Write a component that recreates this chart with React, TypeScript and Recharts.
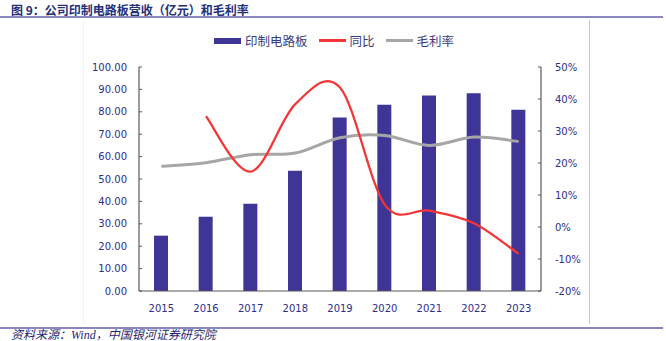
import { ComposedChart, Bar, Line, XAxis, YAxis } from "recharts";

const years = ["2015", "2016", "2017", "2018", "2019", "2020", "2021", "2022", "2023"];
const revenue = [24.7, 33.2, 38.9, 53.7, 77.4, 83.1, 87.3, 88.3, 80.9];
const yoy = [null, 34.6, 17.3, 38.4, 43.6, 7.0, 5.1, 1.2, -8.4];
const grossMargin = [19.0, 20.1, 22.6, 23.1, 27.9, 28.6, 25.5, 28.1, 26.7];
const leftTicks = [0, 10, 20, 30, 40, 50, 60, 70, 80, 90, 100];
const rightTicks = [-20, -10, 0, 10, 20, 30, 40, 50];
const edgeTicks = [0, 1, 2, 3, 4, 5, 6, 7, 8, 9];

const data = years.map((year, i) => ({
  year,
  idx: i,
  revenue: revenue[i],
  yoy: yoy[i],
  margin: grossMargin[i],
}));

const NAVY = "#2E2E8C";
const AXIS = "#595959";
const BAR = "#3F3597";
const RED = "#F53535";
const GRAY = "#A6A6A6";
const tickFont = { fontSize: 10, fill: NAVY, fontFamily: "DejaVu Sans" };

// excel-like smoothed line (catmull-rom through the points)
function smoothCurve(context: any) {
  let pts: number[][] = [];
  return {
    areaStart() {},
    areaEnd() {},
    lineStart() {
      pts = [];
    },
    point(x: number, y: number) {
      pts.push([+x, +y]);
    },
    lineEnd() {
      if (!pts.length) return;
      context.moveTo(pts[0][0], pts[0][1]);
      for (let i = 0; i < pts.length - 1; i++) {
        const p0 = pts[i - 1] || pts[i];
        const p1 = pts[i];
        const p2 = pts[i + 1];
        const p3 = pts[i + 2] || p2;
        context.bezierCurveTo(
          p1[0] + (p2[0] - p0[0]) / 6,
          p1[1] + (p2[1] - p0[1]) / 6,
          p2[0] - (p3[0] - p1[0]) / 6,
          p2[1] - (p3[1] - p1[1]) / 6,
          p2[0],
          p2[1]
        );
      }
    },
  };
}

function LegendItem({ color, label, thick }: { color: string; label: string; thick: number }) {
  return (
    <span style={{ display: "inline-flex", alignItems: "center", marginRight: 11 }}>
      <span style={{ display: "inline-block", width: 27, height: thick, background: color, marginRight: 4 }} />
      <span>{label}</span>
    </span>
  );
}

export default function App() {
  return (
    <div
      style={{
        position: "absolute",
        left: 0,
        top: 0,
        width: 666,
        height: 341,
        background: "#fff",
        overflow: "hidden",
        fontFamily: "'Noto Sans CJK SC', sans-serif",
      }}
    >
      <div style={{ position: "absolute", left: 11, top: 1, fontSize: 12, fontWeight: 700, color: "#23307A" }}>
        图 9：公司印制电路板营收（亿元）和毛利率
      </div>
      <div style={{ position: "absolute", left: 0, top: 16, width: 663, height: 1.5, background: "#8A86C6" }} />
      <div style={{ position: "absolute", left: 83, top: 20, width: 1, height: 304, background: "#F2F2F2" }} />
      <div style={{ position: "absolute", left: 589, top: 20, width: 1, height: 304, background: "#C8C8C8" }} />
      <div style={{ position: "absolute", left: 0, top: 327, width: 663, height: 1.5, background: "#8A86C6" }} />
      <div
        style={{
          position: "absolute",
          left: 11,
          top: 325,
          fontSize: 12,
          fontStyle: "italic",
          color: "#1F1F70",
          fontFamily: "'Liberation Serif', 'Noto Sans CJK SC', serif",
        }}
      >
        资料来源：Wind，中国银河证券研究院
      </div>
      <div
        style={{
          position: "absolute",
          left: 214,
          top: 31,
          fontSize: 12.5,
          color: "#3A3A80",
          display: "flex",
          alignItems: "center",
          whiteSpace: "nowrap",
        }}
      >
        <LegendItem color={BAR} label="印制电路板" thick={6} />
        <LegendItem color={RED} label="同比" thick={3} />
        <LegendItem color={GRAY} label="毛利率" thick={3} />
      </div>
      <div style={{ position: "absolute", left: 0, top: 0 }}>
        <ComposedChart width={666} height={341} data={data} margin={{ top: 67, right: 0, left: 0, bottom: 0 }}>
          <XAxis
            xAxisId="edge"
            dataKey="idx"
            type="number"
            domain={[0, 9]}
            allowDataOverflow
            ticks={edgeTicks}
            height={0}
            axisLine={false}
            tickSize={-4}
            tickLine={{ stroke: AXIS }}
            tickFormatter={() => ""}
          />
          <XAxis
            xAxisId="cat"
            dataKey="year"
            height={50}
            interval={0}
            tickLine={false}
            tickSize={0}
            tickMargin={14}
            axisLine={{ stroke: AXIS, strokeWidth: 1.2 }}
            tick={tickFont}
          />
          <YAxis
            yAxisId="l"
            domain={[0, 100]}
            ticks={leftTicks}
            interval={0}
            width={139}
            tickSize={-3}
            tickMargin={15}
            tickLine={{ stroke: AXIS }}
            axisLine={{ stroke: AXIS, strokeWidth: 1.2 }}
            tickFormatter={(v: number) => v.toFixed(2)}
            tick={tickFont}
          />
          <YAxis
            yAxisId="r"
            orientation="right"
            domain={[-20, 50]}
            ticks={rightTicks}
            interval={0}
            width={125}
            tickSize={-3}
            tickMargin={17}
            tickLine={{ stroke: AXIS }}
            axisLine={{ stroke: AXIS, strokeWidth: 1.2 }}
            tickFormatter={(v: number) => `${v}%`}
            tick={tickFont}
          />
          <Bar xAxisId="cat" yAxisId="l" dataKey="revenue" fill={BAR} barSize={14} isAnimationActive={false} />
          <Line
            xAxisId="cat"
            yAxisId="r"
            dataKey="margin"
            type={smoothCurve as any}
            stroke={GRAY}
            strokeWidth={3}
            dot={false}
            isAnimationActive={false}
          />
          <Line
            xAxisId="cat"
            yAxisId="r"
            dataKey="yoy"
            type={smoothCurve as any}
            stroke={RED}
            strokeWidth={2.25}
            dot={false}
            connectNulls={false}
            isAnimationActive={false}
          />
        </ComposedChart>
      </div>
    </div>
  );
}
